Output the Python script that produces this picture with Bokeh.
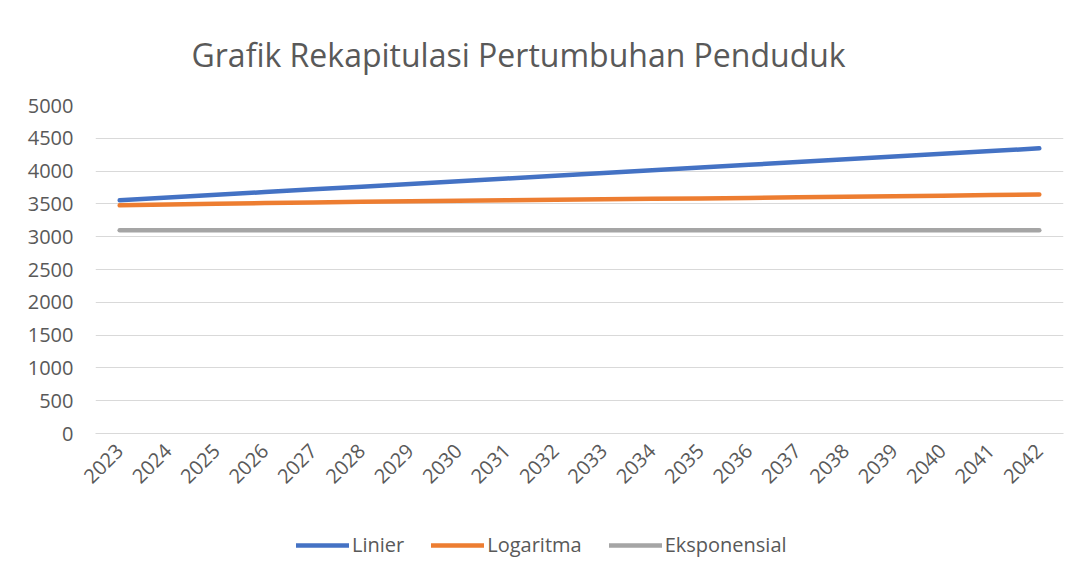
from math import pi
from bokeh.plotting import figure
from bokeh.layouts import column
from bokeh.models import Range1d, FactorRange, Legend, LegendItem, Title, SingleIntervalTicker
from bokeh.embed import file_html
from bokeh.resources import INLINE

years = [str(y) for y in range(2023, 2043)]
linier = [3555, 3597, 3638, 3680, 3722, 3763, 3805, 3847, 3888, 3930,
          3972, 4013, 4055, 4097, 4138, 4180, 4222, 4263, 4305, 4347]
logaritma = [3478, 3492, 3503, 3513, 3523, 3532, 3540, 3548, 3556, 3563,
             3570, 3577, 3584, 3591, 3600, 3608, 3617, 3626, 3636, 3645]
eksponensial = [3100, 3100, 3100, 3100, 3100, 3100, 3100, 3100, 3100, 3100,
                3100, 3100, 3100, 3100, 3100, 3100, 3100, 3100, 3100, 3100]
series_names = ["Linier", "Logaritma", "Eksponensial"]
colors = ["#4472C4", "#ED7D31", "#A5A5A5"]

FONT = "Open Sans"
TXT = "#595959"
LW = 4.5

p = figure(width=1075, height=500, x_range=FactorRange(*years, range_padding=0),
           y_range=Range1d(0, 5000), output_backend="svg", toolbar_location=None,
           min_border_left=95, min_border_right=12, min_border_top=105, min_border_bottom=67)
p.outline_line_color = None
p.border_fill_color = "white"

for vals, c in zip([linier, logaritma, eksponensial], colors):
    p.line(years, vals, line_color=c, line_width=LW, line_cap="round", line_join="round")

p.yaxis.ticker = SingleIntervalTicker(interval=500)
p.yaxis.axis_line_color = None
p.yaxis.major_tick_line_color = None
p.yaxis.minor_tick_line_color = None
p.yaxis.major_tick_out = 0
p.yaxis.major_tick_in = 0
p.yaxis.major_label_text_font = FONT
p.yaxis.major_label_text_font_size = "20px"
p.yaxis.major_label_text_color = TXT
p.yaxis.major_label_standoff = 18

p.xaxis.axis_line_color = "#d9d9d9"
p.xaxis.major_tick_line_color = None
p.xaxis.minor_tick_line_color = None
p.xaxis.major_tick_out = 0
p.xaxis.major_tick_in = 0
p.xaxis.major_label_text_font = FONT
p.xaxis.major_label_text_font_size = "20px"
p.xaxis.major_label_text_color = TXT
p.xaxis.major_label_orientation = pi / 4
p.xaxis.major_label_standoff = 14

p.xgrid.grid_line_color = None
p.ygrid.grid_line_color = "#d9d9d9"
p.ygrid.grid_line_width = 1

t = Title(text="Grafik Rekapitulasi Pertumbuhan Penduduk", align="left", offset=96,
          text_font=FONT, text_font_size="32px", text_font_style="normal", text_color=TXT,
          standoff=60)
p.add_layout(t, "above")

# legend strip below the chart
lf = figure(width=1075, height=70, x_range=Range1d(0, 1), y_range=Range1d(0, 1),
            output_backend="svg", toolbar_location=None,
            min_border_left=0, min_border_right=0, min_border_top=0, min_border_bottom=0)
lf.axis.visible = False
lf.grid.visible = False
lf.outline_line_color = None
items = []
for name, c in zip(series_names, colors):
    r = lf.line([-10, -9], [-10, -9], line_color=c, line_width=LW, line_cap="round")
    items.append(LegendItem(label=name, renderers=[r]))
legend = Legend(items=items, orientation="horizontal", location=(201, 12),
                label_text_font=FONT, label_text_font_size="20px", label_text_color=TXT,
                glyph_width=53, glyph_height=26, spacing=27, label_standoff=3,
                padding=0, margin=0, border_line_color=None, background_fill_alpha=0)
lf.add_layout(legend, "center")

layout = column(p, lf, spacing=0)
open("out.html", "w").write(file_html(layout, INLINE))
